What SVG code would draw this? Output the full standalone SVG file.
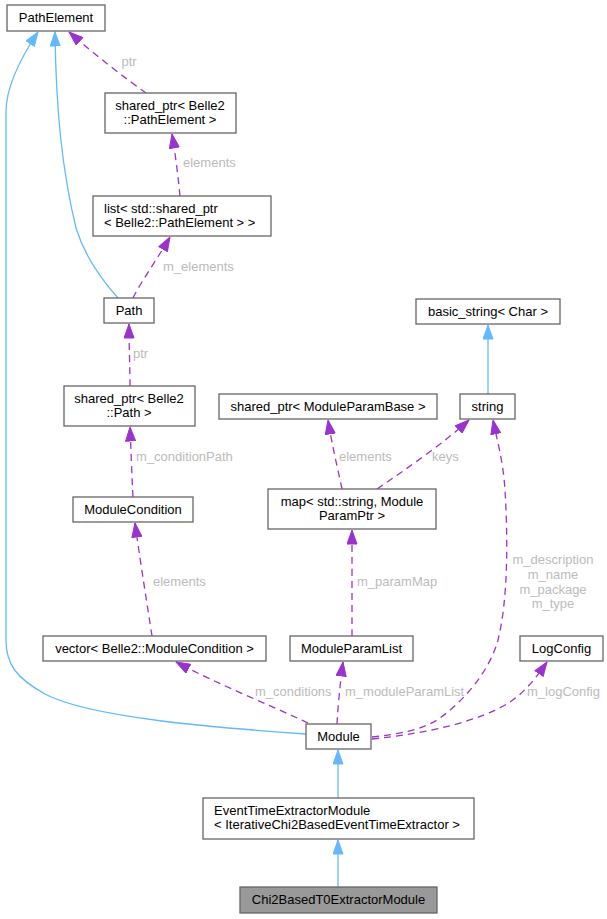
<svg xmlns="http://www.w3.org/2000/svg" width="607" height="919" viewBox="0 0 607 919">
<style>
.n rect{fill:#fff;stroke:#666;stroke-width:1.3}
.n text{font-family:"Liberation Sans",Arial,sans-serif;font-size:13px;fill:#000}
.c{text-anchor:middle}
.inh{fill:none;stroke:#63b8ff;stroke-width:1.3;marker-end:url(#ab)}
.use{fill:none;stroke:#9a32cd;stroke-width:1.3;stroke-dasharray:7,5;marker-end:url(#ap)}
.lbl{font-family:"Liberation Sans",Arial,sans-serif;font-size:13px;fill:#bbbbbb}
</style>
<defs>
<marker id="ab" markerUnits="userSpaceOnUse" markerWidth="15" markerHeight="11" viewBox="0 0 15 11" refX="14.5" refY="5.5" orient="auto">
<path d="M0.5,0.5 L14.5,5.5 L0.5,10.5 z" fill="#63b8ff" stroke="#63b8ff"/>
</marker>
<marker id="ap" markerUnits="userSpaceOnUse" markerWidth="15" markerHeight="11" viewBox="0 0 15 11" refX="14.5" refY="5.5" orient="auto">
<path d="M0.5,0.5 L14.5,5.5 L0.5,10.5 z" fill="#9a32cd" stroke="#9a32cd"/>
</marker>
</defs>
<rect width="607" height="919" fill="#fff"/>
<g id="connectors">
<path class="inh" d="M118,298 C100,278 84,254 76,228 C62,170 56,110 55,32"/>
<path class="inh" d="M306,734 C220,728 90,718 45,694 C16,678 6,664 6,640 L6,112 C6,88 18,62 38,32"/>
<path class="use" d="M146,93 C125,78 95,55 69,32"/>
<text class="lbl c" x="129" y="66">ptr</text>
<path class="use" d="M180,196 C178,175 175,152 172,134"/>
<text class="lbl" x="183" y="167">elements</text>
<path class="use" d="M133,298 C142,280 158,258 170,237"/>
<text class="lbl" x="163" y="271">m_elements</text>
<path class="use" d="M130,386 C130,370 129,345 129,324"/>
<text class="lbl" x="133" y="358">ptr</text>
<path class="use" d="M133,497 C132,480 131,450 130,427"/>
<text class="lbl" x="136" y="461">m_conditionPath</text>
<path class="use" d="M152,636 C148,610 140,560 135,523"/>
<text class="lbl" x="153" y="586">elements</text>
<path class="use" d="M308,723 C270,705 215,683 176,662"/>
<text class="lbl" x="255" y="696">m_conditions</text>
<path class="use" d="M337,724 C338,705 340,685 343,662"/>
<text class="lbl" x="345" y="696">m_moduleParamList</text>
<path class="use" d="M352,636 C352,610 352,560 352,530"/>
<text class="lbl" x="357" y="586">m_paramMap</text>
<path class="use" d="M342,489 C338,470 332,445 328,420"/>
<text class="lbl" x="339" y="461">elements</text>
<path class="use" d="M377,489 C405,470 445,442 469,420"/>
<text class="lbl" x="432" y="461">keys</text>
<path class="inh" d="M488,394 L488,325"/>
<path class="use" d="M372,737 C400,734 425,729 440,718 C465,700 490,670 498,640 C508,600 508,540 505,490 C503,460 497,440 493,420"/>
<text class="lbl c" x="553" y="564">m_description</text>
<text class="lbl c" x="553" y="579">m_name</text>
<text class="lbl c" x="553" y="594">m_package</text>
<text class="lbl c" x="553" y="608">m_type</text>
<path class="use" d="M372,739 C430,733 480,721 510,702 C525,692 536,678 547,662"/>
<text class="lbl" x="527" y="696">m_logConfig</text>
<path class="inh" d="M338,798 L338,750"/>
<path class="inh" d="M338,887 L338,840"/>
</g>
<g id="PathElement" class="n"><rect x="7" y="5" width="98" height="26"/><text class="c" x="56" y="22">PathElement</text></g>
<g id="SharedPtrPathElement" class="n"><rect x="105" y="93" width="131" height="40"/><text class="c" x="170" y="110">shared_ptr&lt; Belle2</text><text class="c" x="170" y="124">::PathElement &gt;</text></g>
<g id="ListSharedPtr" class="n"><rect x="93" y="196" width="178" height="40"/><text x="104" y="213">list&lt; std::shared_ptr</text><text x="104" y="227">&lt; Belle2::PathElement &gt; &gt;</text></g>
<g id="Path" class="n"><rect x="104" y="298" width="50" height="25"/><text class="c" x="129" y="315">Path</text></g>
<g id="SharedPtrPath" class="n"><rect x="64" y="386" width="131" height="40"/><text class="c" x="129" y="403">shared_ptr&lt; Belle2</text><text class="c" x="129" y="417">::Path &gt;</text></g>
<g id="ModuleCondition" class="n"><rect x="73" y="497" width="120" height="25"/><text class="c" x="133" y="514">ModuleCondition</text></g>
<g id="VectorModuleCondition" class="n"><rect x="43" y="636" width="223" height="25"/><text class="c" x="154.5" y="653">vector&lt; Belle2::ModuleCondition &gt;</text></g>
<g id="BasicString" class="n"><rect x="416" y="299" width="144" height="25"/><text class="c" x="488" y="316">basic_string&lt; Char &gt;</text></g>
<g id="SharedPtrModuleParamBase" class="n"><rect x="219" y="394" width="218" height="25"/><text class="c" x="328" y="411">shared_ptr&lt; ModuleParamBase &gt;</text></g>
<g id="String" class="n"><rect x="460" y="394" width="55" height="25"/><text class="c" x="487.5" y="411">string</text></g>
<g id="MapModuleParamPtr" class="n"><rect x="268" y="489" width="168" height="40"/><text class="c" x="352" y="506">map&lt; std::string, Module</text><text class="c" x="352" y="520">ParamPtr &gt;</text></g>
<g id="ModuleParamList" class="n"><rect x="290" y="636" width="123" height="25"/><text class="c" x="351.5" y="653">ModuleParamList</text></g>
<g id="LogConfig" class="n"><rect x="520" y="636" width="83" height="25"/><text class="c" x="561.5" y="653">LogConfig</text></g>
<g id="Module" class="n"><rect x="306" y="724" width="65" height="25"/><text class="c" x="338.5" y="741">Module</text></g>
<g id="EventTimeExtractorModule" class="n"><rect x="203" y="798" width="271" height="41"/><text x="214" y="815">EventTimeExtractorModule</text><text x="214" y="829">&lt; IterativeChi2BasedEventTimeExtractor &gt;</text></g>
<g id="Chi2BasedT0ExtractorModule" class="n"><rect x="240" y="887" width="197" height="26" style="fill:#999"/><text class="c" x="338.5" y="904">Chi2BasedT0ExtractorModule</text></g>
</svg>
